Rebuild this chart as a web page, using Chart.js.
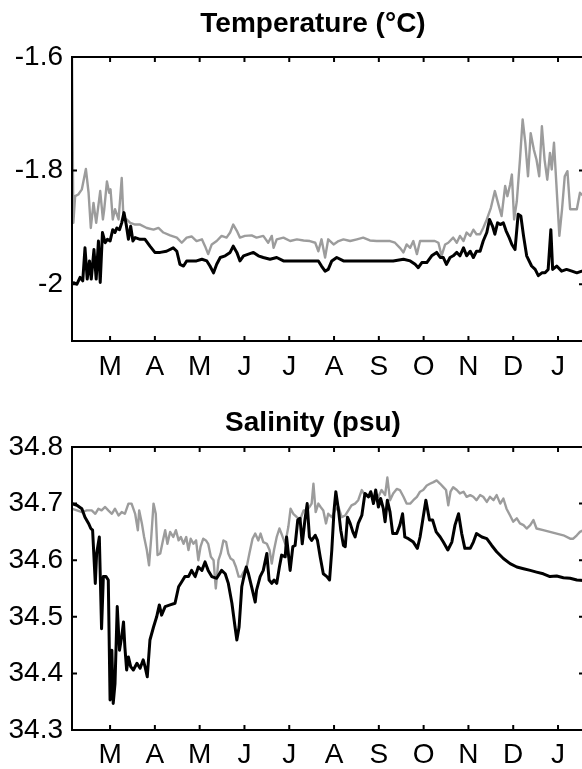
<!DOCTYPE html>
<html>
<head>
<meta charset="utf-8">
<title>Temperature and salinity</title>
<script src="https://cdn.jsdelivr.net/npm/chart.js@4"></script>
<style>
  html, body { margin: 0; padding: 0; background: #fff; }
  .panel { width: 582px; overflow: hidden; }
  canvas { display: block; }
</style>
</head>
<body>
<div class="panel"><canvas id="tempChart" width="626" height="384"></canvas></div>
<div class="panel"><canvas id="salChart" width="626" height="385"></canvas></div>
<script>
// x is in months, 0 = start of March
const monthLabels = ["M", "A", "M", "J", "J", "A", "S", "O", "N", "D", "J"];
const monthTicks = [0, 1, 2, 3, 4, 5, 6, 7, 8, 9, 10];
const tempTicks = [-2, -1.8, -1.6];
const salTicks = [34.3, 34.4, 34.5, 34.6, 34.7, 34.8];

// temperature (°C), grey and black records
const greyTempX = [-0.85,-0.82,-0.78,-0.71,-0.63,-0.54,-0.48,-0.43,-0.37,-0.31,-0.22,-0.16,-0.13,-0.07,-0.02,0.01,0.06,0.11,0.19,0.26,0.30,0.37,0.45,0.56,0.67,0.82,0.97,1.08,1.19,1.34,1.49,1.60,1.71,1.82,1.93,2.05,2.12,2.19,2.27,2.38,2.49,2.60,2.68,2.75,2.83,2.90,3.01,3.16,3.27,3.42,3.53,3.61,3.65,3.72,3.87,4.02,4.17,4.32,4.46,4.58,4.65,4.72,4.80,4.87,4.99,5.10,5.21,5.36,5.51,5.65,5.80,5.95,6.10,6.25,6.36,6.47,6.55,6.62,6.70,6.77,6.85,6.92,7.03,7.14,7.25,7.33,7.40,7.48,7.55,7.66,7.74,7.81,7.89,7.96,8.04,8.11,8.18,8.26,8.33,8.41,8.50,8.59,8.67,8.74,8.82,8.87,8.93,8.97,9.02,9.08,9.15,9.21,9.27,9.33,9.39,9.46,9.52,9.58,9.64,9.70,9.76,9.82,9.86,9.91,9.97,10.03,10.09,10.15,10.21,10.27,10.34,10.42,10.49,10.57];
const greyTempY = [-1.60,-1.892,-1.845,-1.842,-1.833,-1.797,-1.839,-1.901,-1.857,-1.892,-1.836,-1.886,-1.868,-1.819,-1.839,-1.833,-1.886,-1.868,-1.886,-1.813,-1.886,-1.886,-1.892,-1.895,-1.895,-1.901,-1.904,-1.901,-1.909,-1.914,-1.918,-1.927,-1.918,-1.916,-1.924,-1.921,-1.933,-1.947,-1.930,-1.924,-1.915,-1.918,-1.909,-1.895,-1.906,-1.918,-1.915,-1.914,-1.918,-1.915,-1.927,-1.915,-1.936,-1.921,-1.918,-1.924,-1.921,-1.923,-1.924,-1.927,-1.942,-1.921,-1.953,-1.921,-1.930,-1.924,-1.921,-1.924,-1.921,-1.918,-1.923,-1.924,-1.924,-1.924,-1.927,-1.936,-1.944,-1.930,-1.936,-1.924,-1.947,-1.924,-1.924,-1.924,-1.924,-1.927,-1.950,-1.930,-1.927,-1.918,-1.927,-1.915,-1.924,-1.909,-1.915,-1.904,-1.912,-1.912,-1.901,-1.886,-1.866,-1.836,-1.860,-1.880,-1.827,-1.845,-1.825,-1.807,-1.886,-1.854,-1.781,-1.710,-1.751,-1.810,-1.734,-1.763,-1.781,-1.810,-1.722,-1.781,-1.816,-1.769,-1.798,-1.751,-1.833,-1.915,-1.868,-1.810,-1.801,-1.868,-1.868,-1.868,-1.839,-1.845];
const blackTempX = [-0.83,-0.74,-0.67,-0.61,-0.56,-0.51,-0.46,-0.42,-0.36,-0.31,-0.26,-0.22,-0.17,-0.11,-0.06,0.00,0.06,0.11,0.15,0.21,0.26,0.31,0.36,0.41,0.46,0.51,0.56,0.67,0.78,0.89,1.00,1.12,1.26,1.41,1.49,1.56,1.64,1.71,1.82,1.93,2.05,2.16,2.23,2.31,2.38,2.46,2.57,2.68,2.75,2.83,2.90,2.98,3.09,3.20,3.31,3.42,3.57,3.72,3.87,4.17,4.46,4.65,4.72,4.80,4.87,4.95,5.06,5.21,5.43,5.65,5.88,6.10,6.32,6.55,6.70,6.81,6.88,6.96,7.07,7.18,7.29,7.37,7.44,7.51,7.59,7.66,7.74,7.81,7.89,7.96,8.04,8.11,8.18,8.26,8.33,8.41,8.47,8.54,8.59,8.65,8.71,8.78,8.84,8.91,8.97,9.04,9.11,9.17,9.23,9.30,9.41,9.49,9.56,9.64,9.71,9.78,9.84,9.88,9.97,10.08,10.19,10.31,10.42,10.53,10.60];
const blackTempY = [-1.997,-2.000,-1.988,-1.994,-1.936,-1.991,-1.959,-1.991,-1.939,-1.991,-1.924,-1.997,-1.909,-1.927,-1.921,-1.924,-1.904,-1.909,-1.901,-1.904,-1.892,-1.874,-1.895,-1.921,-1.898,-1.924,-1.918,-1.921,-1.921,-1.933,-1.944,-1.944,-1.942,-1.936,-1.942,-1.965,-1.968,-1.959,-1.959,-1.959,-1.956,-1.959,-1.968,-1.980,-1.965,-1.953,-1.950,-1.944,-1.933,-1.944,-1.959,-1.950,-1.947,-1.944,-1.950,-1.953,-1.956,-1.953,-1.959,-1.959,-1.959,-1.959,-1.968,-1.977,-1.974,-1.959,-1.953,-1.959,-1.959,-1.959,-1.959,-1.959,-1.959,-1.956,-1.959,-1.965,-1.971,-1.962,-1.962,-1.950,-1.944,-1.953,-1.953,-1.965,-1.953,-1.950,-1.944,-1.950,-1.936,-1.950,-1.942,-1.953,-1.942,-1.942,-1.924,-1.909,-1.886,-1.898,-1.912,-1.892,-1.895,-1.892,-1.906,-1.918,-1.930,-1.939,-1.877,-1.880,-1.915,-1.950,-1.968,-1.974,-1.985,-1.980,-1.980,-1.974,-1.904,-1.974,-1.968,-1.977,-1.974,-1.977,-1.980,-1.977,-1.979];

// salinity (psu)
const greySalX = [-0.86,-0.74,-0.63,-0.52,-0.41,-0.33,-0.26,-0.19,-0.11,-0.04,0.04,0.11,0.19,0.26,0.33,0.41,0.48,0.56,0.62,0.65,0.71,0.76,0.82,0.87,0.92,0.97,1.02,1.06,1.12,1.18,1.23,1.28,1.34,1.41,1.47,1.53,1.58,1.64,1.70,1.75,1.80,1.86,1.92,1.97,2.02,2.08,2.14,2.19,2.25,2.31,2.36,2.42,2.47,2.53,2.59,2.64,2.69,2.75,2.81,2.87,2.93,2.98,3.05,3.11,3.18,3.24,3.31,3.36,3.42,3.50,3.56,3.61,3.66,3.72,3.78,3.84,3.91,3.98,4.03,4.09,4.17,4.24,4.32,4.39,4.45,4.50,4.54,4.59,4.65,4.70,4.76,4.82,4.87,4.95,5.02,5.10,5.17,5.25,5.32,5.39,5.47,5.54,5.62,5.69,5.77,5.84,5.92,5.99,6.06,6.14,6.19,6.25,6.32,6.40,6.47,6.55,6.62,6.70,6.77,6.85,6.92,6.99,7.07,7.14,7.22,7.29,7.37,7.44,7.50,7.55,7.60,7.66,7.74,7.81,7.89,7.96,8.04,8.11,8.18,8.26,8.33,8.41,8.48,8.56,8.63,8.71,8.78,8.85,8.93,9.00,9.08,9.15,9.23,9.30,9.38,9.45,9.52,9.67,9.82,9.97,10.12,10.27,10.34,10.42,10.49,10.57];
const greySalY = [34.691,34.688,34.685,34.688,34.688,34.682,34.691,34.688,34.694,34.688,34.682,34.691,34.679,34.685,34.682,34.700,34.700,34.682,34.653,34.688,34.665,34.641,34.618,34.591,34.641,34.700,34.682,34.609,34.612,34.635,34.653,34.629,34.650,34.641,34.653,34.635,34.641,34.629,34.641,34.618,34.638,34.629,34.635,34.600,34.624,34.638,34.635,34.629,34.606,34.600,34.550,34.600,34.612,34.635,34.632,34.612,34.603,34.600,34.588,34.571,34.571,34.579,34.588,34.612,34.638,34.647,34.635,34.647,34.632,34.629,34.618,34.594,34.618,34.641,34.656,34.644,34.629,34.659,34.691,34.682,34.676,34.671,34.688,34.688,34.694,34.700,34.735,34.685,34.700,34.694,34.688,34.665,34.682,34.676,34.688,34.694,34.676,34.679,34.688,34.697,34.700,34.706,34.724,34.715,34.712,34.718,34.706,34.712,34.724,34.715,34.746,34.706,34.718,34.726,34.724,34.712,34.700,34.700,34.706,34.712,34.721,34.724,34.732,34.735,34.738,34.741,34.735,34.729,34.724,34.697,34.721,34.729,34.724,34.718,34.721,34.712,34.715,34.712,34.706,34.715,34.712,34.703,34.712,34.706,34.715,34.700,34.709,34.691,34.679,34.668,34.674,34.665,34.662,34.656,34.662,34.671,34.656,34.653,34.650,34.647,34.644,34.638,34.638,34.644,34.650,34.653];
const blackSalX = [-0.86,-0.74,-0.63,-0.56,-0.48,-0.43,-0.39,-0.33,-0.30,-0.24,-0.19,-0.15,-0.09,-0.04,0.00,0.04,0.07,0.11,0.16,0.21,0.26,0.30,0.33,0.37,0.41,0.46,0.52,0.60,0.67,0.74,0.78,0.83,0.89,0.97,1.04,1.10,1.15,1.23,1.34,1.45,1.53,1.60,1.67,1.75,1.82,1.90,1.97,2.05,2.12,2.19,2.27,2.38,2.49,2.57,2.64,2.72,2.79,2.83,2.88,2.94,2.98,3.04,3.09,3.16,3.24,3.27,3.35,3.42,3.50,3.55,3.61,3.66,3.72,3.78,3.83,3.91,3.94,4.02,4.08,4.13,4.19,4.24,4.29,4.35,4.40,4.45,4.50,4.58,4.63,4.69,4.76,4.84,4.90,4.95,5.00,5.04,5.10,5.15,5.21,5.25,5.30,5.36,5.42,5.47,5.54,5.62,5.69,5.77,5.82,5.88,5.93,5.99,6.04,6.10,6.14,6.19,6.25,6.31,6.40,6.47,6.53,6.58,6.66,6.77,6.86,6.92,6.98,7.05,7.13,7.20,7.28,7.37,7.44,7.54,7.63,7.70,7.78,7.85,7.92,8.04,8.11,8.18,8.30,8.41,8.52,8.63,8.78,8.93,9.08,9.23,9.38,9.52,9.67,9.82,9.97,10.12,10.27,10.42,10.57];
const blackSalY = [34.700,34.697,34.691,34.676,34.665,34.656,34.653,34.559,34.612,34.641,34.479,34.571,34.571,34.565,34.353,34.441,34.347,34.382,34.518,34.441,34.465,34.491,34.447,34.406,34.429,34.412,34.406,34.418,34.409,34.424,34.412,34.394,34.459,34.482,34.500,34.521,34.503,34.518,34.521,34.524,34.553,34.562,34.571,34.571,34.582,34.571,34.588,34.582,34.597,34.582,34.571,34.568,34.582,34.576,34.559,34.524,34.482,34.459,34.482,34.553,34.568,34.588,34.576,34.553,34.526,34.547,34.571,34.582,34.612,34.565,34.559,34.565,34.559,34.588,34.609,34.606,34.641,34.582,34.624,34.626,34.671,34.674,34.629,34.671,34.700,34.641,34.635,34.644,34.635,34.606,34.576,34.571,34.565,34.618,34.688,34.721,34.688,34.653,34.626,34.624,34.676,34.665,34.650,34.641,34.665,34.679,34.718,34.712,34.721,34.700,34.724,34.694,34.709,34.691,34.668,34.706,34.685,34.647,34.647,34.662,34.682,34.641,34.638,34.632,34.621,34.641,34.671,34.706,34.671,34.671,34.650,34.641,34.632,34.618,34.632,34.662,34.682,34.647,34.621,34.621,34.632,34.647,34.641,34.638,34.626,34.615,34.603,34.594,34.588,34.585,34.582,34.579,34.576,34.571,34.572,34.569,34.568,34.565,34.564];

const FONT = '"Liberation Sans", Arial, Helvetica, sans-serif';
const X_MIN = -0.85;
const X_MAX = 10.58;

const pairs = (xs, ys) => xs.map((x, i) => ({ x: x, y: ys[i] }));

// closed box with short inward tick marks on all four sides
const boxTicks = {
  id: "boxTicks",
  afterDraw(chart) {
    const { ctx, chartArea: a, scales } = chart;
    const len = 5;
    ctx.save();
    ctx.strokeStyle = "#000";
    ctx.lineWidth = 2;
    ctx.strokeRect(a.left, a.top, a.right - a.left, a.bottom - a.top);
    ctx.beginPath();
    scales.x.ticks.forEach(t => {
      const px = scales.x.getPixelForValue(t.value);
      ctx.moveTo(px, a.bottom);
      ctx.lineTo(px, a.bottom - len);
      ctx.moveTo(px, a.top);
      ctx.lineTo(px, a.top + len);
    });
    scales.y.ticks.forEach(t => {
      const py = scales.y.getPixelForValue(t.value);
      ctx.moveTo(a.left, py);
      ctx.lineTo(a.left + len, py);
      ctx.moveTo(a.right, py);
      ctx.lineTo(a.right - len, py);
    });
    ctx.stroke();
    ctx.restore();
  }
};

function panelOptions(p) {
  return {
    responsive: false,
    devicePixelRatio: 1,
    animation: false,
    layout: { padding: 0 },
    plugins: {
      legend: { display: false },
      tooltip: { enabled: false },
      title: {
        display: true,
        text: p.title,
        color: "#000",
        font: { family: FONT, size: 28, weight: "bold" },
        padding: p.titlePad
      }
    },
    scales: {
      x: {
        type: "linear",
        min: X_MIN,
        max: X_MAX,
        grid: { display: false, drawTicks: false },
        border: { display: false },
        afterBuildTicks: s => { s.ticks = monthTicks.map(v => ({ value: v })); },
        afterFit: s => { s.height = p.xHeight; },
        ticks: {
          color: "#000",
          font: { family: FONT, size: 28 },
          padding: p.xPad,
          maxRotation: 0,
          autoSkip: false,
          callback: (v, i) => monthLabels[i]
        }
      },
      y: {
        type: "linear",
        position: "left",
        min: p.yMin,
        max: p.yMax,
        grid: { display: false, drawTicks: false },
        border: { display: false },
        afterBuildTicks: s => { s.ticks = p.yTicks.map(v => ({ value: v })); },
        afterFit: s => { s.width = 72; },
        ticks: {
          color: "#000",
          font: { family: FONT, size: 28 },
          padding: 9,
          callback: v => String(v)
        }
      },
      yr: {
        type: "linear",
        position: "right",
        display: true,
        grid: { display: false, drawTicks: false },
        border: { display: false },
        ticks: { display: false },
        afterFit: s => { s.width = 42; }
      }
    }
  };
}

function lineSet(data, color, width) {
  return {
    data: data,
    borderColor: color,
    borderWidth: width,
    borderJoinStyle: "round",
    pointRadius: 0,
    tension: 0,
    fill: false,
    yAxisID: "y"
  };
}

new Chart(document.getElementById("tempChart"), {
  type: "line",
  data: {
    datasets: [
      lineSet(pairs(blackTempX, blackTempY), "#000", 3),
      lineSet(pairs(greyTempX, greyTempY), "#9c9c9c", 2.4)
    ]
  },
  options: panelOptions({
    title: "Temperature (°C)",
    titlePad: { top: 7, bottom: 16.4 },
    yMin: -2.1,
    yMax: -1.6,
    yTicks: tempTicks,
    xHeight: 43,
    xPad: 9
  }),
  plugins: [boxTicks]
});

new Chart(document.getElementById("salChart"), {
  type: "line",
  data: {
    datasets: [
      lineSet(pairs(blackSalX, blackSalY), "#000", 3),
      lineSet(pairs(greySalX, greySalY), "#9c9c9c", 2.4)
    ]
  },
  options: panelOptions({
    title: "Salinity (psu)",
    titlePad: { top: 22, bottom: 7.4 },
    yMin: 34.3,
    yMax: 34.8,
    yTicks: salTicks,
    xHeight: 39,
    xPad: 8
  }),
  plugins: [boxTicks]
});
</script>
</body>
</html>
